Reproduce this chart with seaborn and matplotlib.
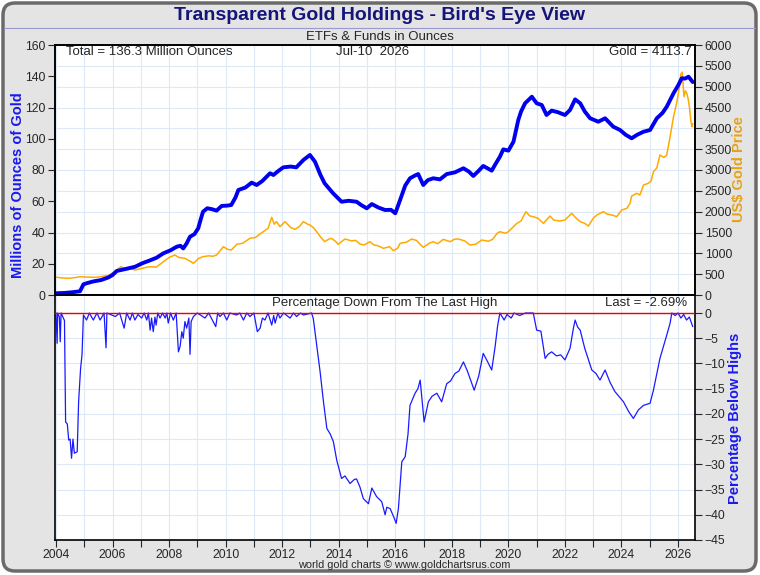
import numpy as np
import matplotlib
matplotlib.use('Agg')
import matplotlib.pyplot as plt
import seaborn as sns
from matplotlib.patches import FancyBboxPatch
from matplotlib.colors import LinearSegmentedColormap
from matplotlib.ticker import MultipleLocator

# ETF holdings, millions of ounces
hold_year = [2004.0, 2004.3, 2004.6, 2004.85, 2004.97, 2005.1, 2005.3, 2005.6, 2005.85, 2006.0,
             2006.15, 2006.5, 2006.8, 2007.05, 2007.3, 2007.55, 2007.8, 2008.05, 2008.27, 2008.4,
             2008.5, 2008.62, 2008.74, 2008.9, 2009.03, 2009.12, 2009.2, 2009.35, 2009.5, 2009.68,
             2009.86, 2010.05, 2010.2, 2010.35, 2010.45, 2010.7, 2010.92, 2011.1, 2011.3, 2011.57,
             2011.69, 2011.85, 2012.04, 2012.3, 2012.5, 2012.75, 2012.98, 2013.16, 2013.35, 2013.5,
             2013.8, 2014.1, 2014.35, 2014.63, 2014.8, 2014.99, 2015.17, 2015.4, 2015.64, 2015.85,
             2016.0, 2016.17, 2016.35, 2016.52, 2016.7, 2016.81, 2016.99, 2017.15, 2017.34, 2017.58,
             2017.82, 2018.11, 2018.41, 2018.6, 2018.76, 2018.95, 2019.11, 2019.41, 2019.55, 2019.7,
             2019.82, 2020.0, 2020.18, 2020.35, 2020.45, 2020.59, 2020.83, 2021.0, 2021.18, 2021.35,
             2021.53, 2021.75, 2022.0, 2022.18, 2022.36, 2022.54, 2022.7, 2022.89, 2023.18, 2023.42,
             2023.71, 2023.95, 2024.15, 2024.36, 2024.55, 2024.78, 2025.01, 2025.25, 2025.45, 2025.6,
             2025.84, 2026.0, 2026.13, 2026.25, 2026.37, 2026.52]
hold_oz = [1.1, 1.3, 1.8, 2.4, 6.8, 7.6, 8.6, 9.6, 11.2, 12.8,
           15.4, 16.8, 18.1, 20.3, 22.0, 23.8, 26.7, 28.6, 30.9, 31.5,
           29.8, 33.0, 37.3, 39.0, 42.7, 48.5, 53.3, 55.5, 55.0, 54.0,
           57.0, 57.2, 57.6, 62.5, 67.2, 68.8, 71.9, 70.4, 73.0, 77.9,
           76.8, 79.2, 81.7, 82.2, 81.7, 86.4, 89.6, 85.3, 77.0, 71.5,
           65.1, 59.7, 60.3, 59.7, 57.5, 55.5, 58.2, 56.0, 54.4, 54.5,
           52.3, 60.8, 70.0, 74.7, 76.5, 77.4, 70.4, 73.5, 74.7, 74.0,
           77.4, 78.5, 81.1, 79.0, 76.2, 79.5, 82.6, 79.6, 84.0, 88.5,
           93.2, 92.4, 98.1, 112.0, 117.5, 122.7, 126.9, 122.7, 121.6, 115.2,
           118.0, 117.0, 115.2, 118.4, 125.2, 122.7, 117.5, 113.1, 110.9, 113.1,
           107.7, 105.6, 102.5, 100.3, 102.5, 104.5, 105.6, 113.1, 116.5, 120.5,
           129.1, 134.0, 138.7, 138.5, 139.7, 136.3]

# gold price, US$
gold_year = [2004.0, 2004.2, 2004.45, 2004.7, 2004.85, 2005.1, 2005.4, 2005.6, 2005.85, 2006.05,
             2006.3, 2006.45, 2006.6, 2006.8, 2007.05, 2007.3, 2007.55, 2007.8, 2008.0, 2008.2,
             2008.35, 2008.56, 2008.72, 2008.86, 2009.05, 2009.2, 2009.4, 2009.55, 2009.68, 2009.92,
             2010.05, 2010.2, 2010.4, 2010.6, 2010.86, 2011.05, 2011.33, 2011.5, 2011.63, 2011.72,
             2011.8, 2011.92, 2012.1, 2012.3, 2012.45, 2012.6, 2012.75, 2012.9, 2012.98, 2013.1,
             2013.22, 2013.35, 2013.5, 2013.65, 2013.75, 2013.9, 2013.98, 2014.22, 2014.45, 2014.6,
             2014.75, 2014.9, 2015.1, 2015.25, 2015.4, 2015.58, 2015.8, 2015.93, 2016.08, 2016.17,
             2016.4, 2016.58, 2016.75, 2016.9, 2016.99, 2017.2, 2017.34, 2017.5, 2017.7, 2017.94,
             2018.1, 2018.23, 2018.45, 2018.64, 2018.85, 2019.06, 2019.3, 2019.45, 2019.6, 2019.7,
             2019.9, 2020.0, 2020.18, 2020.3, 2020.45, 2020.62, 2020.75, 2020.88, 2021.05, 2021.24,
             2021.47, 2021.6, 2021.83, 2022.0, 2022.24, 2022.4, 2022.54, 2022.7, 2022.83, 2023.0,
             2023.13, 2023.36, 2023.5, 2023.66, 2023.83, 2024.01, 2024.19, 2024.3, 2024.36, 2024.54,
             2024.65, 2024.78, 2024.95, 2025.05, 2025.13, 2025.25, 2025.36, 2025.5, 2025.6, 2025.72,
             2025.84, 2025.95, 2026.05, 2026.1, 2026.15, 2026.21, 2026.26, 2026.31, 2026.36, 2026.4,
             2026.45, 2026.49, 2026.52]
gold_price = [430, 410, 400, 420, 440, 430, 425, 440, 470, 550,
              680, 620, 640, 600, 640, 680, 670, 800, 900, 960,
              900, 880, 820, 760, 880, 920, 940, 930, 960, 1160,
              1100, 1080, 1220, 1240, 1360, 1380, 1520, 1600, 1865, 1700,
              1760, 1640, 1760, 1620, 1576, 1640, 1760, 1700, 1680, 1620,
              1520, 1400, 1280, 1340, 1360, 1280, 1216, 1344, 1300, 1310,
              1224, 1200, 1280, 1200, 1180, 1120, 1160, 1064, 1120, 1240,
              1270, 1344, 1310, 1200, 1144, 1240, 1280, 1230, 1336, 1280,
              1340, 1344, 1300, 1200, 1220, 1320, 1290, 1340, 1480, 1520,
              1480, 1520, 1640, 1720, 1780, 2000, 1900, 1880, 1840, 1720,
              1896, 1800, 1776, 1800, 1960, 1840, 1760, 1720, 1656, 1840,
              1920, 2000, 1940, 1920, 1880, 2040, 2080, 2200, 2376, 2440,
              2400, 2640, 2680, 2740, 2960, 3050, 3360, 3300, 3360, 3800,
              4280, 4600, 5000, 5300, 5350, 4760, 4900, 4840, 4700, 4520,
              4200, 4040, 4114]

# percentage below the last high of holdings
dd_year = [2004.00, 2004.04, 2004.06, 2004.12, 2004.15, 2004.18, 2004.30, 2004.34, 2004.40, 2004.45,
           2004.50, 2004.55, 2004.60, 2004.65, 2004.75, 2004.80, 2004.87, 2004.92, 2004.97, 2005.08,
           2005.18, 2005.32, 2005.45, 2005.56, 2005.70, 2005.77, 2005.80, 2006.10, 2006.25, 2006.41,
           2006.50, 2006.62, 2006.70, 2006.79, 2006.90, 2007.03, 2007.12, 2007.21, 2007.27, 2007.33,
           2007.38, 2007.44, 2007.50, 2007.54, 2007.60, 2007.68, 2007.77, 2007.86, 2007.92, 2007.97,
           2008.05, 2008.15, 2008.25, 2008.33, 2008.39, 2008.45, 2008.50, 2008.56, 2008.62, 2008.70,
           2008.74, 2008.78, 2008.86, 2009.00, 2009.27, 2009.40, 2009.56, 2009.65, 2009.72, 2009.80,
           2009.92, 2010.04, 2010.15, 2010.39, 2010.50, 2010.63, 2010.75, 2010.86, 2011.00, 2011.12,
           2011.22, 2011.30, 2011.39, 2011.50, 2011.63, 2011.70, 2011.75, 2011.85, 2011.92, 2012.05,
           2012.28, 2012.40, 2012.51, 2012.65, 2012.75, 2013.04, 2013.10, 2013.22, 2013.34, 2013.46,
           2013.58, 2013.70, 2013.81, 2013.93, 2014.10, 2014.22, 2014.40, 2014.55, 2014.63, 2014.75,
           2014.87, 2015.05, 2015.17, 2015.34, 2015.52, 2015.64, 2015.70, 2015.82, 2015.95, 2016.03,
           2016.11, 2016.23, 2016.35, 2016.45, 2016.52, 2016.70, 2016.80, 2016.88, 2017.02, 2017.17,
           2017.30, 2017.47, 2017.64, 2017.82, 2017.95, 2018.11, 2018.25, 2018.41, 2018.55, 2018.79,
           2018.95, 2019.11, 2019.25, 2019.41, 2019.53, 2019.62, 2019.70, 2019.85, 2019.95, 2020.10,
           2020.20, 2020.40, 2020.60, 2020.88, 2021.00, 2021.15, 2021.30, 2021.40, 2021.53, 2021.70,
           2021.85, 2022.00, 2022.18, 2022.30, 2022.36, 2022.45, 2022.54, 2022.70, 2022.95, 2023.10,
           2023.24, 2023.42, 2023.60, 2023.77, 2024.07, 2024.25, 2024.42, 2024.60, 2024.78, 2025.01,
           2025.13, 2025.36, 2025.60, 2025.72, 2025.78, 2025.90, 2026.00, 2026.10, 2026.20, 2026.30,
           2026.40, 2026.52]
dd_pct = [0, -6.0, 0, -0.8, -5.7, 0, -1.5, -21.6, -22.0, -25.2,
          -25.0, -28.8, -25.0, -27.8, -27.5, -17.6, -11.0, -8.3, -0.4, -1.4,
          0, -1.4, 0, -1.4, 0, -6.9, 0, -0.7, 0, -3.0,
          0, -1.4, 0, -1.4, -0.3, -1.0, 0, -1.4, 0, -3.4,
          -1.0, -3.7, -0.8, -2.4, 0, -1.0, 0, -1.0, 0, -2.0,
          0, -1.4, 0, -7.7, -6.6, -3.7, -5.0, -1.7, -3.0, -1.0,
          -8.2, -1.7, -0.7, 0, -1.0, 0, -1.7, -2.7, 0, -0.7,
          0, -1.4, 0, -0.4, 0, -1.4, 0, -0.7, 0, -3.7,
          -3.0, -1.0, -1.4, 0, -2.4, -0.5, -2.0, 0, -1.0, 0,
          -1.0, 0, -0.7, 0, -0.4, 0, -1.1, -6.3, -11.6, -17.6,
          -22.9, -24.0, -25.5, -29.2, -32.8, -32.3, -33.8, -33.0, -32.9, -34.5,
          -36.8, -37.8, -34.7, -36.4, -37.4, -40.0, -38.5, -38.8, -40.5, -41.7,
          -38.8, -29.5, -28.5, -24.0, -18.3, -15.9, -15.0, -13.3, -21.6, -17.6,
          -16.5, -15.9, -17.6, -14.0, -13.5, -12.0, -11.5, -9.7, -11.5, -15.3,
          -12.5, -8.0, -9.5, -11.3, -6.7, -2.5, 0, -1.4, -0.3, -1.0,
          0, -0.5, 0, 0, -3.4, -3.6, -9.0, -8.2, -7.7, -8.5,
          -8.3, -9.3, -7.0, -3.0, -1.4, -2.8, -3.4, -7.0, -11.3, -12.0,
          -13.3, -11.3, -13.8, -15.6, -17.6, -19.5, -20.9, -19.2, -18.3, -17.9,
          -15.3, -9.0, -4.4, -2.0, 0, -0.5, 0, -1.0, -0.3, -1.4,
          -0.8, -2.7]

year_ticks = list(range(2004, 2027, 2))

sns.set_style('white')
plt.rcParams['font.family'] = ['Liberation Sans', 'DejaVu Sans']

BLUE = '#0000ee'
ORANGE = '#ffaa00'
GRID = '#dde9f6'
W, H = 760, 575

fig = plt.figure(figsize=(7.6, 5.75), dpi=100)
fig.patch.set_facecolor('white')

# background panel with rounded frame and gradient title bar
bg = fig.add_axes([0, 0, 1, 1], zorder=-10)
bg.set_axis_off()
bg.set_xlim(0, W)
bg.set_ylim(H, 0)
frame = FancyBboxPatch((3, 3), 753, 568, boxstyle='round,pad=0,rounding_size=12',
                       fc='#e4e4e4', ec='#6a6a6a', lw=2.5)
bg.add_patch(frame)
t = np.linspace(0, 1, 400)
prof = np.where(t < 0.5, 0.45 + 0.55 * (t / 0.5), 1 - (t - 0.5) / 0.5)
cmap = LinearSegmentedColormap.from_list('bar', ['#6a6aef', '#ececff'])
im = bg.imshow(prof[None, :], cmap=cmap, vmin=0, vmax=1, aspect='auto',
               extent=(3, 756, 28, 3))
im.set_clip_path(frame)
bg.plot([4, 755], [28, 28], color='#9a9ad0', lw=0.8)

fig.text(0.5, 1 - 15 / H, "Transparent Gold Holdings - Bird's Eye View",
         ha='center', va='center', fontsize=14, fontweight='bold', color='#14147a')
fig.text(0.5, 1 - 37 / H, 'ETFs & Funds in Ounces', ha='center', va='center', fontsize=9.5)
fig.text(404.5 / W, 1 - 565 / H, 'world gold charts \u00a9 www.goldchartsrus.com',
         ha='center', va='center', fontsize=7.8)

# top panel: holdings (left) and gold price (right)
ax1 = fig.add_axes([55 / W, 1 - 295 / H, 640 / W, 250 / H])
ax1r = ax1.twinx()
ax1.set_zorder(ax1r.get_zorder() + 1)
ax1.patch.set_visible(False)
ax1r.patch.set_visible(True)
ax1r.patch.set_facecolor('white')

for yr in range(2004, 2027):
    ax1r.axvline(yr, color=GRID, lw=0.8, zorder=0)
ax1r.set_axisbelow(True)
ax1r.yaxis.grid(True, color=GRID, lw=0.8)

sns.lineplot(x=gold_year, y=gold_price, ax=ax1r, color=ORANGE, linewidth=1.1)
sns.lineplot(x=hold_year, y=hold_oz, ax=ax1, color=BLUE, linewidth=2.8)

xlim = (2003.965, 2026.6)
ax1.set_xlim(xlim)
ax1.set_ylim(0, 160)
ax1r.set_ylim(0, 6000)
ax1.yaxis.set_major_locator(MultipleLocator(20))
ax1r.yaxis.set_major_locator(MultipleLocator(500))
ax1.set_xticks([])
ax1.set_xlabel('')
ax1.set_ylabel('')
ax1r.set_ylabel('')
for a in (ax1, ax1r):
    a.tick_params(axis='y', direction='out', length=5, width=0.8, labelsize=8.8, pad=2)
    for s in a.spines.values():
        s.set_color('black')
        s.set_linewidth(1.2)

ax1.text(0.017, 0.972, 'Total = 136.3 Million Ounces', transform=ax1.transAxes,
         ha='left', va='center', fontsize=9.5)
ax1.text(0.439, 0.972, 'Jul-10  2026', transform=ax1.transAxes,
         ha='left', va='center', fontsize=9.5)
ax1.text(0.994, 0.972, 'Gold = 4113.7', transform=ax1.transAxes,
         ha='right', va='center', fontsize=9.5)

# bottom panel: percentage down from last high
top_extra = 18 / 5.044
ax2 = fig.add_axes([55 / W, 1 - 540 / H, 640 / W, 245 / H])
ax2.set_facecolor('white')
ax2.set_axisbelow(True)
sns.lineplot(x=dd_year, y=dd_pct, ax=ax2, color='#1a1aff', linewidth=0.9)
ax2.axhline(0, color='#ee0000', lw=1.0, zorder=3)
ax2.set_xlim(xlim)
ax2.set_ylim(-45, top_extra)
ax2.set_yticks(list(range(0, -46, -5)))
ax2.yaxis.tick_right()
ax2.set_xticks(year_ticks)
ax2.set_xticks(list(range(2004, 2027)), minor=True)
ax2.xaxis.grid(True, which='both', color=GRID, lw=0.8)
ax2.yaxis.grid(True, color=GRID, lw=0.8)
ax2.tick_params(axis='x', which='both', direction='out', length=5, width=0.8,
                labelsize=8.8, pad=1.5, bottom=True)
ax2.tick_params(axis='y', direction='out', length=5, width=0.8, labelsize=8.8, pad=2, right=True)
ax2.set_xlabel('')
ax2.set_ylabel('')
for s in ax2.spines.values():
    s.set_color('black')
    s.set_linewidth(1.2)

ax2.text(0.515, 0.967, 'Percentage Down From The Last High', transform=ax2.transAxes,
         ha='center', va='center', fontsize=9.5)
ax2.text(0.988, 0.967, 'Last = -2.69%', transform=ax2.transAxes,
         ha='right', va='center', fontsize=9.5)

# axis titles
fig.text(18 / W, 1 - 185 / H, 'Millions of Ounces of Gold', rotation=90,
         ha='center', va='center', fontsize=10.5, fontweight='bold', color='#1a1aee')
fig.text(739 / W, 1 - 169 / H, 'US$ Gold Price', rotation=90,
         ha='center', va='center', fontsize=10.5, fontweight='bold', color='#e6a21a')
fig.text(735 / W, 1 - 418 / H, 'Percentage Below Highs', rotation=90,
         ha='center', va='center', fontsize=10.5, fontweight='bold', color='#1a1aee')

fig.savefig('out.png', dpi=100)
